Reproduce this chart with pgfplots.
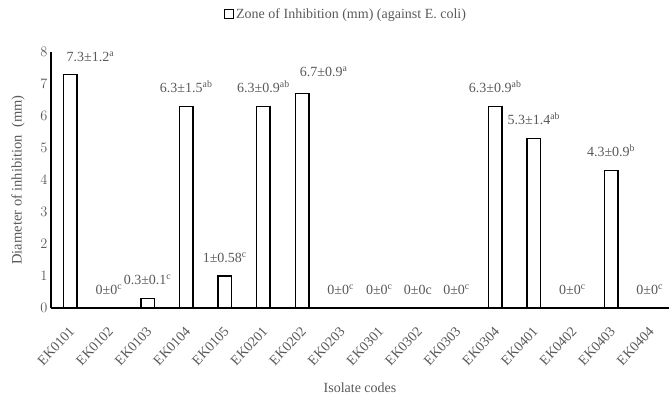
\documentclass[border=0pt]{standalone}
\usepackage{fontspec}
\setmainfont{Liberation Serif}
\usepackage{pgfplots}
\usepackage{pgfplotstable}
\pgfplotsset{compat=1.18}
\definecolor{txt}{HTML}{595959}
\pgfplotstableread{
x y
0 7.3
1 0
2 0.3
3 6.3
4 1
5 6.3
6 6.7
7 0
8 0
9 0
10 0
11 6.3
12 5.3
13 0
14 4.3
15 0
}\bars
\pgfplotstableread{
lx ly label
0.52 7.69 7.3±1.2\textsuperscript{a}
1 0.42 0±0\textsuperscript{c}
2 0.72 0.3±0.1\textsuperscript{c}
3 6.72 6.3±1.5\textsuperscript{ab}
4 1.42 1±0.58\textsuperscript{c}
5 6.72 6.3±0.9\textsuperscript{ab}
6.56 7.22 6.7±0.9\textsuperscript{a}
7 0.42 0±0\textsuperscript{c}
8 0.42 0±0\textsuperscript{c}
9 0.42 0±0c
10 0.42 0±0\textsuperscript{c}
11 6.72 6.3±0.9\textsuperscript{ab}
12 5.72 5.3±1.4\textsuperscript{ab}
13 0.42 0±0\textsuperscript{c}
14 4.72 4.3±0.9\textsuperscript{b}
15 0.42 0±0\textsuperscript{c}
}\labels
\begin{document}
\begin{tikzpicture}
\begin{axis}[
  width=618pt, height=256pt, scale only axis,
  xmin=-0.5, xmax=15.5, ymin=0, ymax=8,
  clip=false,
  axis x line*=bottom, axis y line*=left,
  axis line style={-, black, line width=1.1pt},
  major tick length=0pt,
  xtick={0,...,15},
  xticklabels={EK0101,EK0102,EK0103,EK0104,EK0105,EK0201,EK0202,EK0203,EK0301,EK0302,EK0303,EK0304,EK0401,EK0402,EK0403,EK0404},
  x tick label style={xshift=-2pt, yshift=-16pt, rotate=47, anchor=north east, font=\fontsize{14}{16}\selectfont, text=txt, inner sep=1pt},
  ytick={0,...,8},
  y tick label style={font=\fontsize{14}{16}\selectfont, text=txt},
  xlabel={Isolate codes},
  ylabel={Diameter of inhibition\ \ (mm)},
  xlabel style={at={(axis description cs:0.5,0)}, anchor=center, yshift=-80pt, font=\fontsize{14}{16}\selectfont, text=txt},
  ylabel style={at={(axis description cs:-0.0534,0.5)}, anchor=center, font=\fontsize{14.5}{16}\selectfont, text=txt},
  legend style={at={(0.5,1)}, anchor=center, xshift=-14pt, yshift=38pt, draw=none, fill=none, font=\fontsize{14}{16}\selectfont, text=txt},
  legend image code/.code={\draw[black, fill=white, line width=1.1pt] (0pt,-4.5pt) rectangle (9pt,4.5pt);},
]
\addplot[ybar, bar width=13.5pt, draw=black, fill=white, line width=1.4pt] table[x=x, y=y] {\bars};
\addlegendentry{Zone of Inhibition (mm) (against E. coli)}
\addplot[draw=none, mark=none, forget plot, nodes near coords, point meta=explicit symbolic,
  every node near coord/.append style={anchor=base, font=\fontsize{14}{16}\selectfont, text=txt, inner sep=0pt}]
  table[x=lx, y=ly, meta=label] {\labels};
\end{axis}
\pgfresetboundingbox
\path ([shift={(-51pt,-89pt)}]current axis.south west) rectangle ([shift={(1pt,52pt)}]current axis.north east);
\end{tikzpicture}
\end{document}
